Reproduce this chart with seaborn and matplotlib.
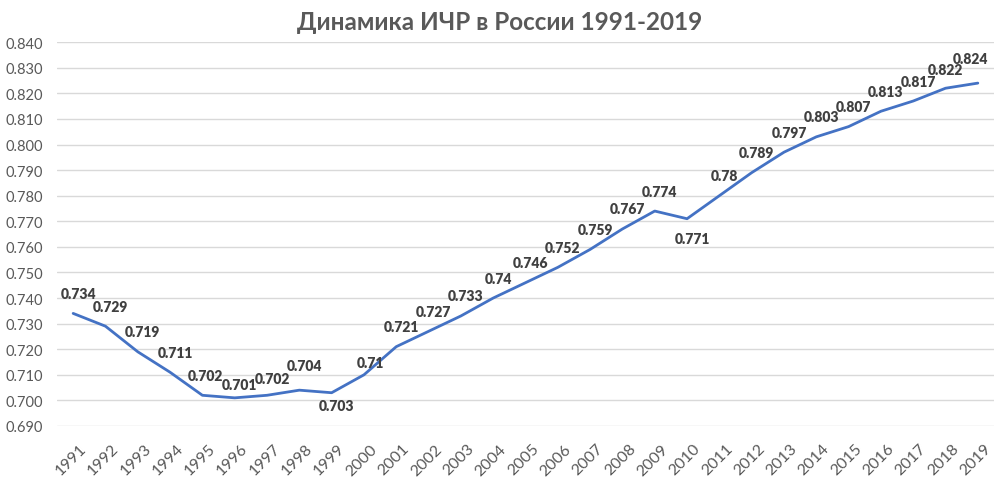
import matplotlib
matplotlib.use("Agg")
import matplotlib.pyplot as plt
import matplotlib.transforms as mtrans
import seaborn as sns
import pandas as pd
import numpy as np

years = [str(y) for y in range(1991, 2020)]
hdi = [0.734, 0.729, 0.719, 0.711, 0.702, 0.701, 0.702, 0.704, 0.703, 0.710,
       0.721, 0.727, 0.733, 0.740, 0.746, 0.752, 0.759, 0.767, 0.774, 0.771,
       0.780, 0.789, 0.797, 0.803, 0.807, 0.813, 0.817, 0.822, 0.824]
label_text = ["0.734", "0.729", "0.719", "0.711", "0.702", "0.701", "0.702", "0.704", "0.703", "0.71",
              "0.721", "0.727", "0.733", "0.74", "0.746", "0.752", "0.759", "0.767", "0.774", "0.771",
              "0.78", "0.789", "0.797", "0.803", "0.807", "0.813", "0.817", "0.822", "0.824"]
title = "Динамика ИЧР в России 1991-2019"

sns.set_theme(style="white")
plt.rcParams['font.family'] = ['Lato', 'DejaVu Sans']

df = pd.DataFrame({"year": years, "hdi": hdi})

fig = plt.figure(figsize=(10, 4.85), dpi=100)
ax = fig.add_axes([0.057, 0.1196, 0.937, 0.7914])
sns.lineplot(data=df, x="year", y="hdi", ax=ax, color="#4472C4", linewidth=2.0, sort=False)

ax.set_xlim(-0.5, len(years) - 0.5)
ax.set_ylim(0.690, 0.840)
ax.set_yticks(np.arange(0.690, 0.8401, 0.010))
ax.yaxis.set_major_formatter(matplotlib.ticker.FormatStrFormatter('%.3f'))
ax.set_xticks(range(len(years)), years)
ax.grid(axis="y", color="#D9D9D9", linewidth=1.0)
ax.set_axisbelow(True)
for s in ax.spines.values():
    s.set_visible(False)
ax.set_xlabel("")
ax.set_ylabel("")
ax.tick_params(axis="y", length=0, labelsize=10.5, labelcolor="#595959", pad=10)
ax.tick_params(axis="x", length=0, labelsize=11.5, labelcolor="#595959", pad=11)
shift = mtrans.ScaledTranslation(6 / 100, 0, fig.dpi_scale_trans)
for lab in ax.get_xticklabels():
    lab.set_rotation(45)
    lab.set_ha("right")
    lab.set_rotation_mode("anchor")
    lab.set_transform(lab.get_transform() + shift)

# label offsets in pixels (dx, dy of label centre relative to the point)
default_off = (5, 20)
special_off = {"1995": (3, 20), "1996": (5, 13), "1997": (5, 17), "1998": (5, 25),
               "1999": (5, -13), "2000": (6, 12), "2010": (5, -20),
               "2018": (0, 19), "2019": (-7, 25)}
px2pt = 72 / 100
for i, (y, v, t) in enumerate(zip(years, hdi, label_text)):
    dx, dy = special_off.get(y, default_off)
    ax.annotate(t, (i, v), xytext=(dx * px2pt, dy * px2pt), textcoords="offset points",
                ha="center", va="center", fontsize=10, fontweight="heavy", color="#404040")

fig.text(0.5, 0.953, title, ha="center", va="center", fontsize=17.5, fontweight="bold", color="#595959")

fig.savefig("out.png", dpi=100)
